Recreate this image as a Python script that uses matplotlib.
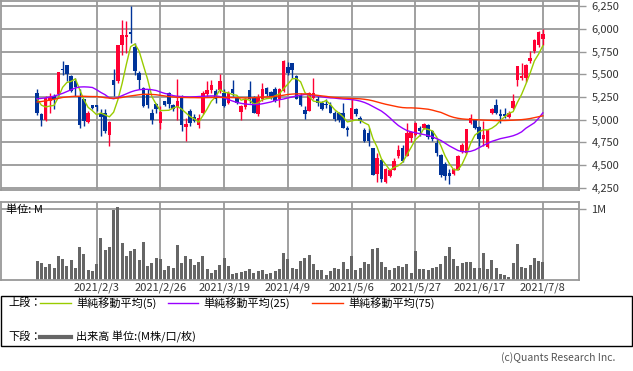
import numpy as np
import pandas as pd
import matplotlib
matplotlib.use("Agg")
import matplotlib.pyplot as plt
from matplotlib.patches import Rectangle
from matplotlib.lines import Line2D

plt.rcParams['font.family'] = ['Noto Sans CJK JP', 'DejaVu Sans']

# ---- data ----
opens = [5296, 5058, 4996, 5205, 5259, 5278, 5563, 5607, 5486, 5424,
         5259, 5230, 4974, 5157, 5157, 5077, 5077, 4828, 5442, 5424,
         5826, 5910, 5968, 5807, 5515, 5351, 5278, 5069, 5168, 4960,
         5205, 5289, 5157, 5142, 5259, 4920, 5095, 5030, 4938, 5069,
         5278, 5325, 5314, 5325, 5296, 5186, 5340, 5241, 5084, 5142,
         5325, 5241, 5058, 5223, 5351, 5303, 5340, 5223, 5314, 5577,
         5625, 5486, 5267, 5102, 5095, 5241, 5230, 5186, 5170, 5157,
         5077, 5070, 5077, 4912, 5004, 5113, 5022, 4887, 4857, 4686,
         4401, 4554, 4309, 4382, 4448, 4602, 4686, 4602, 4792, 4828,
         4912, 4912, 4938, 4876, 4741, 4609, 4510, 4412, 4401, 4448,
         4638, 4631, 4960, 5004, 4923, 4784, 4693, 5077, 5157, 5058,
         5058, 5033, 5132, 5435, 5460, 5460, 5643, 5753, 5826, 5888]
highs = [5340, 5077, 5259, 5296, 5278, 5523, 5643, 5607, 5490, 5460,
         5340, 5230, 5095, 5160, 5160, 5113, 5113, 4985, 5559, 5826,
         6100, 6093, 6253, 5844, 5533, 5362, 5333, 5113, 5186, 5150,
         5210, 5303, 5168, 5453, 5267, 5022, 5113, 5060, 5058, 5320,
         5424, 5442, 5333, 5508, 5333, 5320, 5442, 5259, 5160, 5240,
         5424, 5259, 5278, 5406, 5360, 5320, 5360, 5351, 5655, 5640,
         5630, 5497, 5290, 5150, 5300, 5460, 5260, 5205, 5223, 5190,
         5090, 5080, 5186, 4930, 5223, 5130, 5040, 4912, 4912, 4690,
         4631, 4565, 4470, 4460, 4572, 4722, 4722, 4967, 4876, 4975,
         4931, 4960, 4950, 4890, 4784, 4620, 4529, 4456, 4470, 4615,
         4740, 4900, 5058, 5010, 4930, 4985, 4900, 5132, 5223, 5113,
         5132, 5095, 5285, 5588, 5620, 5615, 5753, 5890, 5975, 5998]
lows = [5048, 4931, 4990, 5077, 5113, 5270, 5497, 5424, 5300, 5260,
        4912, 4930, 4960, 5120, 5090, 4821, 4854, 4711, 5260, 5406,
        5716, 5734, 5844, 5497, 5333, 5142, 5132, 4949, 5077, 4894,
        5150, 5132, 5095, 4996, 4876, 4766, 4931, 4970, 4912, 5060,
        5259, 5296, 5186, 5296, 5142, 5168, 5259, 5170, 4996, 5120,
        5186, 5070, 5040, 5205, 5260, 5230, 5190, 5142, 5300, 5490,
        5460, 5223, 5150, 5004, 5090, 5223, 5150, 5110, 5132, 5070,
        4990, 4970, 4905, 4821, 4996, 5040, 4967, 4748, 4711, 4385,
        4309, 4309, 4300, 4370, 4440, 4572, 4529, 4602, 4748, 4820,
        4821, 4900, 4790, 4766, 4602, 4364, 4328, 4291, 4390, 4440,
        4630, 4620, 4950, 4900, 4711, 4711, 4685, 5060, 5058, 4967,
        5022, 5022, 5113, 5376, 5440, 5420, 5620, 5740, 5800, 5826]
closes = [5077, 4996, 5241, 5252, 5223, 5523, 5545, 5508, 5314, 5362,
          4938, 4985, 5077, 5132, 5140, 5033, 4876, 4974, 5387, 5826,
          5935, 5935, 5946, 5533, 5435, 5150, 5157, 4996, 5113, 5084,
          5157, 5168, 5113, 5205, 4938, 4949, 4960, 4990, 5022, 5296,
          5325, 5387, 5223, 5424, 5150, 5296, 5289, 5186, 5150, 5223,
          5223, 5077, 5241, 5340, 5278, 5252, 5205, 5340, 5643, 5520,
          5544, 5223, 5157, 5058, 5296, 5289, 5186, 5120, 5165, 5077,
          5004, 4996, 4912, 4883, 5132, 5058, 4985, 4766, 4766, 4390,
          4572, 4346, 4456, 4448, 4540, 4667, 4540, 4857, 4865, 4967,
          4876, 4949, 4803, 4784, 4631, 4390, 4382, 4382, 4456, 4602,
          4722, 4894, 5015, 4912, 4784, 4832, 4887, 5113, 5077, 5040,
          5040, 5077, 5205, 5588, 5486, 5607, 5680, 5881, 5968, 5946]
# closes before the first visible bar (needed for the 5-day average)
prev_closes = [5346, 5341, 5202, 5184]

# 25 / 75 day averages (history is not visible)
ma25 = [5230, 5235, 5240, 5250, 5259, 5275, 5290, 5310, 5330, 5350,
        5360, 5362, 5360, 5355, 5330, 5300, 5275, 5240, 5230, 5245,
        5265, 5285, 5305, 5320, 5330, 5335, 5335, 5330, 5322, 5305,
        5290, 5280, 5265, 5258, 5255, 5252, 5250, 5252, 5255, 5258,
        5260, 5262, 5262, 5255, 5240, 5222, 5205, 5190, 5180, 5172,
        5168, 5165, 5168, 5175, 5185, 5195, 5210, 5220, 5228, 5240,
        5250, 5262, 5270, 5278, 5275, 5268, 5260, 5252, 5245, 5240,
        5238, 5232, 5228, 5225, 5222, 5215, 5205, 5190, 5170, 5145,
        5120, 5095, 5060, 5020, 4975, 4935, 4905, 4880, 4865, 4855,
        4845, 4835, 4825, 4810, 4790, 4770, 4740, 4710, 4685, 4660,
        4646, 4645, 4650, 4665, 4690, 4715, 4738, 4760, 4775, 4790,
        4800, 4810, 4822, 4840, 4865, 4905, 4935, 4965, 5015, 5075]
ma75 = [5195, 5200, 5208, 5215, 5225, 5235, 5245, 5250, 5255, 5258,
        5258, 5258, 5256, 5255, 5255, 5250, 5242, 5238, 5236, 5238,
        5245, 5255, 5262, 5268, 5275, 5280, 5280, 5278, 5275, 5268,
        5262, 5255, 5250, 5246, 5245, 5244, 5243, 5243, 5242, 5242,
        5243, 5244, 5245, 5245, 5245, 5244, 5243, 5242, 5241, 5240,
        5240, 5242, 5245, 5248, 5250, 5253, 5257, 5262, 5270, 5278,
        5282, 5285, 5285, 5284, 5280, 5275, 5268, 5262, 5257, 5250,
        5245, 5242, 5238, 5236, 5234, 5232, 5230, 5225, 5218, 5208,
        5195, 5182, 5170, 5160, 5150, 5140, 5133, 5130, 5130, 5128,
        5125, 5120, 5115, 5105, 5092, 5080, 5060, 5040, 5025, 5015,
        5008, 5004, 5002, 5000, 4998, 4995, 4993, 4992, 4990, 4990,
        4990, 4992, 4994, 4997, 5000, 5005, 5012, 5022, 5032, 5042]

# volume in millions
volume = [0.268, 0.239, 0.183, 0.225, 0.169, 0.338, 0.296, 0.197, 0.282, 0.169,
          0.465, 0.366, 0.141, 0.127, 0.225, 0.592, 0.423, 0.465, 0.990, 1.030,
          0.521, 0.338, 0.408, 0.437, 0.282, 0.535, 0.197, 0.239, 0.310, 0.296,
          0.141, 0.197, 0.169, 0.493, 0.239, 0.338, 0.296, 0.211, 0.254, 0.338,
          0.155, 0.099, 0.141, 0.211, 0.310, 0.197, 0.085, 0.099, 0.113, 0.127,
          0.155, 0.099, 0.127, 0.141, 0.085, 0.099, 0.127, 0.155, 0.380, 0.296,
          0.169, 0.155, 0.268, 0.310, 0.352, 0.225, 0.141, 0.141, 0.070, 0.127,
          0.169, 0.155, 0.254, 0.155, 0.338, 0.141, 0.169, 0.254, 0.225, 0.437,
          0.451, 0.254, 0.183, 0.141, 0.169, 0.197, 0.183, 0.225, 0.099, 0.408,
          0.155, 0.155, 0.141, 0.169, 0.183, 0.225, 0.338, 0.465, 0.296, 0.197,
          0.239, 0.254, 0.254, 0.169, 0.169, 0.380, 0.155, 0.282, 0.169, 0.085,
          0.070, 0.042, 0.239, 0.507, 0.183, 0.169, 0.211, 0.310, 0.268, 0.254]

tick_idx = [14, 29, 44, 59, 74, 89, 104, 119]
tick_labels = ['2021/2/3', '2021/2/26', '2021/3/19', '2021/4/9',
               '2021/5/6', '2021/5/27', '2021/6/17', '2021/7/8']
price_ticks = [4250, 4500, 4750, 5000, 5250, 5500, 5750, 6000, 6250]

UP = '#ff0033'
DOWN = '#003399'
GRID = '#999999'

o = np.array(opens, float)
h = np.array(highs, float)
l = np.array(lows, float)
c = np.array(closes, float)
x = np.arange(len(c))
ma5 = pd.Series(prev_closes + closes).rolling(5).mean().to_numpy()[len(prev_closes):]

W, H = 633, 371
fig = plt.figure(figsize=(W / 100, H / 100), dpi=100)

def px_axes(x0, y0, x1, y1):
    return fig.add_axes([x0 / W, 1 - y1 / H, (x1 - x0) / W, (y1 - y0) / H])

xlim = (-8.5, 127.5)

# ---- price panel ----
ax = px_axes(1, 1, 579, 190)
ax.set_xlim(*xlim)
ax.set_ylim(4223, 6310)
for t in tick_idx:
    ax.axvline(t, color=GRID, lw=1.3, zorder=0)
for p in price_ticks:
    ax.axhline(p, color=GRID, lw=1.3, zorder=0)

up = c >= o
cols = np.where(up, UP, DOWN)
ax.vlines(x, l, h, colors=cols, lw=1, zorder=2)
body = np.maximum(np.abs(c - o), 8)
ax.bar(x, body, bottom=np.minimum(o, c), width=0.8, color=cols, lw=0, zorder=3)

ax.plot(x, ma5, color='#99cc00', lw=1, zorder=4)
ax.plot(x, ma25, color='#9900ff', lw=1, zorder=4)
ax.plot(x, ma75, color='#ff3300', lw=1, zorder=4)

ax.yaxis.tick_right()
ax.set_yticks(price_ticks)
ax.set_yticklabels([f'{p:,}' for p in price_ticks])
ax.tick_params(axis='y', length=5, width=1, color=GRID, pad=4, labelsize=8, labelcolor='#333333')
ax.set_xticks([])
for s in ax.spines.values():
    s.set_color(GRID)
    s.set_linewidth(1.3)

# ---- volume panel ----
av = px_axes(1, 202, 579, 280)
av.set_xlim(*xlim)
av.set_ylim(0, 1.1)
for t in tick_idx:
    av.axvline(t, color=GRID, lw=1.3, zorder=0)
av.axhline(1.0, color=GRID, lw=1.3, zorder=0)
av.bar(x, volume, width=0.72, color='#666666', lw=0, zorder=2)
av.yaxis.tick_right()
av.set_yticks([1.0])
av.set_yticklabels(['1M'])
av.tick_params(axis='y', length=5, width=1, color=GRID, pad=4, labelsize=8, labelcolor='#333333')
av.set_xticks(tick_idx)
av.set_xticklabels(tick_labels)
av.tick_params(axis='x', length=0, pad=2, labelsize=8, labelcolor='#333333')
for s in av.spines.values():
    s.set_color(GRID)
    s.set_linewidth(1.3)
av.text(0.008, 0.9, '単位: M', transform=av.transAxes, fontsize=8, va='center', ha='left')

# ---- legend box ----
def fx(px):
    return px / W

def fy(py):
    return 1 - py / H

fig.patches.append(Rectangle((fx(0.5), fy(346)), fx(631.5), (346 - 296) / H,
                             transform=fig.transFigure, fill=False, ec='black', lw=1))
fig.text(fx(8), fy(303), '上段：', fontsize=8, va='center')
fig.text(fx(8), fy(337), '下段：', fontsize=8, va='center')
legend_items = [(40, 71, '#99cc00', '単純移動平均(5)'),
                (168, 198, '#9900ff', '単純移動平均(25)'),
                (312, 343, '#ff3300', '単純移動平均(75)')]
for x0, x1, col, lab in legend_items:
    fig.lines.append(Line2D([fx(x0), fx(x1)], [fy(303), fy(303)], transform=fig.transFigure,
                            color=col, lw=1))
    fig.text(fx(x1 + 5), fy(303), lab, fontsize=8, va='center')
fig.lines.append(Line2D([fx(40), fx(71)], [fy(337), fy(337)], transform=fig.transFigure,
                        color='#666666', lw=3))
fig.text(fx(76), fy(337), '出来高 単位:(M株/口/枚)', fontsize=8, va='center')

fig.text(fx(615), fy(358), '(c)Quants Research Inc.', fontsize=7.5, va='center', ha='right',
         color='#555555')

fig.savefig('out.png', dpi=100)
